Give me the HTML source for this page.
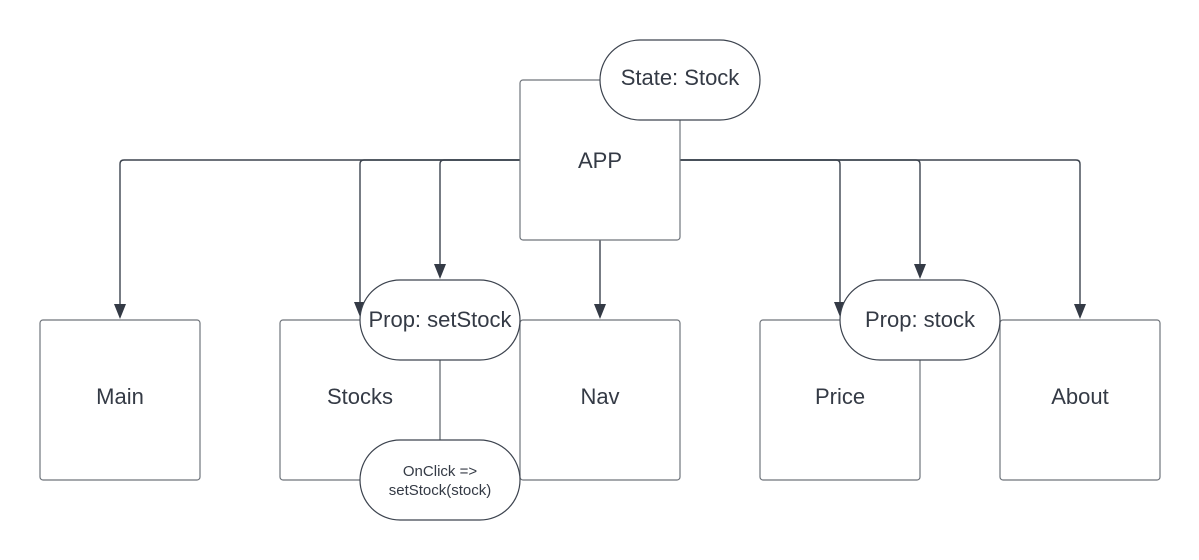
<!DOCTYPE html>
<html><head><meta charset="utf-8"><style>
html,body{margin:0;padding:0;background:#fff;width:1199px;height:560px;overflow:hidden}
svg{display:block}
text{font-family:"Liberation Sans",Arial,sans-serif;fill:#343a45}
</style></head><body>
<svg width="1199" height="560" viewBox="0 0 1199 560" xmlns="http://www.w3.org/2000/svg">
<g fill="none" stroke="#3d444f" stroke-width="1.4">
<path d="M520,160 H124 Q120,160 120,164 V305"/>
<path d="M520,160 H364 Q360,160 360,164 V303"/>
<path d="M520,160 H444 Q440,160 440,164 V265"/>
<path d="M600,240 V305"/>
<path d="M680,160 H1076 Q1080,160 1080,164 V305"/>
<path d="M680,160 H836 Q840,160 840,164 V303"/>
<path d="M680,160 H916 Q920,160 920,164 V265"/>
</g>
<g fill="#343a45">
<path d="M114,304 L126,304 L120,319 Z"/>
<path d="M354,302 L366,302 L360,317 Z"/>
<path d="M434,264 L446,264 L440,279 Z"/>
<path d="M594,304 L606,304 L600,319 Z"/>
<path d="M1074,304 L1086,304 L1080,319 Z"/>
<path d="M834,302 L846,302 L840,317 Z"/>
<path d="M914,264 L926,264 L920,279 Z"/>
</g>
<g fill="#fff" stroke="#6f747b" stroke-width="1.2">
<rect x="520" y="80" width="160" height="160" rx="3"/>
<rect x="40" y="320" width="160" height="160" rx="3"/>
<rect x="280" y="320" width="160" height="160" rx="3"/>
<rect x="520" y="320" width="160" height="160" rx="3"/>
<rect x="760" y="320" width="160" height="160" rx="3"/>
<rect x="1000" y="320" width="160" height="160" rx="3"/>
</g>
<line x1="440" y1="360" x2="440" y2="440" stroke="#6f747b" stroke-width="1.2"/>
<g fill="#fff" stroke="#3d444f" stroke-width="1.2">
<rect x="600" y="40" width="160" height="80" rx="40"/>
<rect x="360" y="280" width="160" height="80" rx="40"/>
<rect x="840" y="280" width="160" height="80" rx="40"/>
<rect x="360" y="440" width="160" height="80" rx="40"/>
</g>
<g font-size="22" text-anchor="middle">
<text x="680" y="85">State: Stock</text>
<text x="600" y="168">APP</text>
<text x="440" y="327">Prop: setStock</text>
<text x="920" y="327">Prop: stock</text>
<text x="120" y="404">Main</text>
<text x="360" y="404">Stocks</text>
<text x="600" y="404">Nav</text>
<text x="840" y="404">Price</text>
<text x="1080" y="404">About</text>
</g>
<g font-size="15" text-anchor="middle">
<text x="440" y="476">OnClick =&gt;</text>
<text x="440" y="495">setStock(stock)</text>
</g>
</svg>
</body></html>
